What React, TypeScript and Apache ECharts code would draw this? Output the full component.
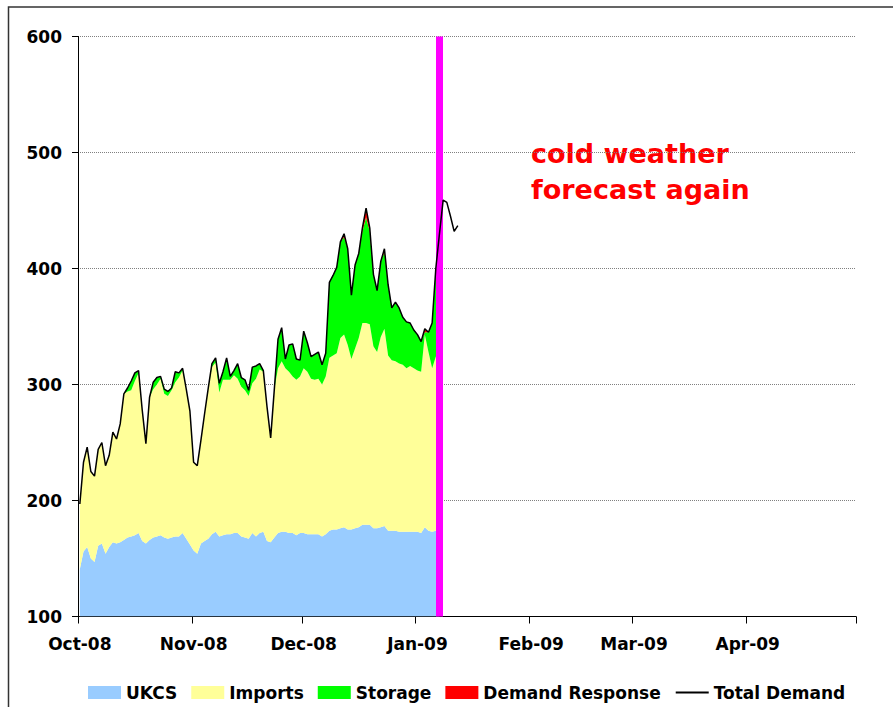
import { useEffect, useRef } from 'react';
import * as echarts from 'echarts';

// ---- axis domain ----
const axisStartUTC = [2008, 9, 1]; // 1 Oct 2008
const dayCount = 212; // through 30 Apr 2009
const monthTickLabels: Record<string, string> = {
  '2008-10': 'Oct-08',
  '2008-11': 'Nov-08',
  '2008-12': 'Dec-08',
  '2009-01': 'Jan-09',
  '2009-02': 'Feb-09',
  '2009-03': 'Mar-09',
  '2009-04': 'Apr-09',
};
const yMin = 100;
const yMax = 600;
const yStep = 100;
const forecastDate = '2009-01-07';
const annotationLines = ['cold weather', 'forecast again'];

// ---- series values (mcm/d, daily from 1 Oct 2008) ----
const ukcs = [
  141, 156, 160, 150, 147, 161, 163, 154, 160, 164,
  163, 164, 166, 168, 169, 170, 172, 165, 163, 166,
  168, 169, 170, 168, 167, 168, 169, 169, 172, 167,
  162, 157, 154, 163, 165, 167, 171, 173, 169, 170,
  171, 171, 172, 172, 169, 168, 167, 172, 169, 172,
  173, 165, 164, 168, 172, 173, 173, 172, 172, 170,
  172, 172, 171, 171, 171, 171, 169, 171, 174, 175,
  175, 176, 177, 175, 175, 176, 177, 179, 179, 179,
  176, 176, 177, 178, 174, 174, 174, 173, 173, 173,
  173, 173, 173, 172, 177, 174, 173, 174, 174,
];
const imports = [
  56, 77, 86, 75, 74, 83, 87, 76, 79, 95,
  90, 102, 126, 126, 126, 133, 138, 113, 86, 123,
  128, 131, 135, 124, 123, 127, 133, 137, 140, 129,
  115, 76, 76, 89, 110, 130, 144, 146, 124, 134,
  133, 133, 136, 133, 129, 127, 123, 129, 136, 141,
  138, 116, 90, 128, 142, 147, 141, 139, 135, 134,
  135, 142, 140, 134, 133, 134, 131, 136, 149, 150,
  152, 164, 166, 159, 147, 155, 163, 174, 174, 173,
  157, 152, 164, 170, 151, 147, 146, 145, 144, 141,
  143, 141, 139, 139, 166, 154, 141, 150, 156,
];
const storage = [
  0, 0, 0, 0, 0, 0, 0, 0, 0, 0,
  0, 0, 0, 3, 8, 7, 2, 0, 0, 0,
  6, 6, 2, 4, 4, 2, 9, 4, 2, 0,
  0, 0, 0, 0, 0, 0, 3, 4, 8, 7,
  19, 3, 4, 13, 8, 9, 5, 14, 11, 5,
  1, 0, 0, 0, 25, 29, 8, 23, 28, 18,
  14, 32, 25, 19, 22, 23, 17, 20, 65, 69,
  74, 83, 84, 83, 55, 72, 73, 79, 91, 80,
  62, 53, 65, 66, 61, 45, 51, 48, 41, 40,
  37, 33, 31, 26, 2, 17, 39, 76, 100,
];
const demandResponse = [
  0, 0, 0, 0, 0, 0, 0, 0, 0, 0,
  0, 0, 0, 0, 0, 0, 0, 0, 0, 0,
  0, 0, 0, 0, 0, 0, 0, 0, 0, 0,
  0, 0, 0, 0, 0, 0, 0, 0, 0, 0,
  0, 0, 0, 0, 0, 0, 0, 0, 0, 0,
  0, 0, 0, 0, 0, 0, 0, 0, 0, 0,
  0, 0, 0, 0, 0, 0, 0, 0, 0, 0,
  0, 0, 3, 0, 0, 0, 0, 3, 8, 3,
  0, 0, 0, 3, 0, 0, 0, 0, 0, 0,
  0, 0, 0, 0, 3, 0, 0, 0, 0,
];
const totalDemand = [
  197, 233, 246, 225, 221, 244, 250, 230, 239, 259,
  253, 266, 292, 297, 303, 310, 312, 278, 249, 289,
  302, 306, 307, 296, 294, 297, 311, 310, 314, 296,
  277, 233, 230, 252, 275, 297, 318, 323, 301, 311,
  323, 307, 312, 318, 306, 304, 295, 315, 316, 318,
  312, 281, 254, 296, 339, 349, 322, 334, 335, 322,
  321, 346, 336, 324, 326, 328, 317, 327, 388, 394,
  401, 423, 430, 417, 377, 403, 413, 435, 452, 435,
  395, 381, 406, 417, 386, 366, 371, 366, 358, 354,
  353, 347, 343, 337, 348, 345, 353, 400, 430, 459,
  457, 445, 432, 437,
];

function buildDays(): string[] {
  const out: string[] = [];
  const d = new Date(Date.UTC(axisStartUTC[0], axisStartUTC[1], axisStartUTC[2]));
  for (let i = 0; i < dayCount; i++) {
    out.push(d.toISOString().slice(0, 10));
    d.setUTCDate(d.getUTCDate() + 1);
  }
  return out;
}

const FONT = '"DejaVu Sans", Verdana, sans-serif';

export default function App() {
  const ref = useRef<HTMLDivElement>(null);

  useEffect(() => {
    if (!ref.current) return;
    const chart = echarts.init(ref.current, undefined, { renderer: 'svg' });
    const days = buildDays();
    const isMonthStart = (_i: number, v: string) => v.slice(8) === '01';

    const area = (name: string, data: number[], color: string, extra: any = {}) => ({
      name,
      type: 'line',
      stack: 'supply',
      data,
      symbol: 'none',
      showSymbol: false,
      color,
      lineStyle: { width: 0, color },
      areaStyle: { color, opacity: 1 },
      emphasis: { disabled: true },
      silent: true,
      z: 2,
      ...extra,
    });

    chart.setOption({
      animation: false,
      backgroundColor: '#ffffff',
      textStyle: { fontFamily: FONT },
      grid: { left: 78, right: 37, top: 36.5, bottom: 90.5, containLabel: false },
      xAxis: {
        type: 'category',
        data: days,
        boundaryGap: true,
        axisLine: { show: true, lineStyle: { color: '#000', width: 1 } },
        axisTick: { show: true, inside: false, length: 7, interval: isMonthStart, lineStyle: { color: '#000' } },
        axisLabel: {
          interval: isMonthStart,
          margin: 19,
          color: '#000',
          fontSize: 17,
          fontWeight: 'bold',
          fontFamily: FONT,
          formatter: (v: string) => monthTickLabels[v.slice(0, 7)] || '',
        },
        splitLine: { show: false },
      },
      yAxis: {
        type: 'value',
        min: yMin,
        max: yMax,
        interval: yStep,
        axisLine: { show: true, lineStyle: { color: '#000', width: 1 } },
        axisTick: { show: true, inside: false, length: 6, lineStyle: { color: '#000' } },
        axisLabel: { margin: 16, color: '#000', fontSize: 17, fontWeight: 'bold', fontFamily: FONT },
        splitLine: { show: true, lineStyle: { color: '#808080', type: 'dotted', width: 1 } },
      },
      legend: {
        left: 88,
        top: 684,
        padding: 0,
        itemWidth: 33,
        itemHeight: 13,
        itemGap: 14,
        selectedMode: false,
        textStyle: { color: '#000', fontSize: 17, fontWeight: 'bold', fontFamily: FONT },
        data: [
          { name: 'UKCS', icon: 'rect' },
          { name: 'Imports', icon: 'rect' },
          { name: 'Storage', icon: 'rect' },
          { name: 'Demand Response', icon: 'rect' },
          { name: 'Total Demand', itemStyle: { opacity: 0 } },
        ],
      },
      series: [
        area('UKCS', ukcs, '#99CCFF', {
          markLine: {
            silent: true,
            symbol: ['none', 'none'],
            label: { show: false },
            emphasis: { disabled: true },
            lineStyle: { color: '#FF00FF', width: 7, type: 'solid' },
            data: [{ xAxis: forecastDate }],
          },
        }),
        area('Imports', imports, '#FFFF99'),
        area('Storage', storage, '#00FF00'),
        area('Demand Response', demandResponse, '#FF0000'),
        {
          name: 'Total Demand',
          type: 'line',
          data: totalDemand,
          symbol: 'none',
          showSymbol: false,
          color: '#000',
          lineStyle: { color: '#000', width: 1.5 },
          emphasis: { disabled: true },
          silent: true,
          z: 8,
        },
      ],
      graphic: [
        {
          type: 'rect',
          silent: true,
          shape: { x: 8.5, y: 7, width: 1000, height: 1000 },
          style: { fill: 'none', stroke: '#333', lineWidth: 1.5 },
        },
        ...annotationLines.map((t, i) => ({
          type: 'text',
          silent: true,
          x: 531,
          y: 153 + i * 36,
          style: {
            text: t,
            fill: '#FF0000',
            fontSize: 27,
            fontWeight: 'bold',
            fontFamily: FONT,
            align: 'left',
            verticalAlign: 'middle',
          },
        })),
      ],
    });

    return () => chart.dispose();
  }, []);

  return (
    <div
      ref={ref}
      style={{ position: 'absolute', left: 0, top: 0, width: 893, height: 707, background: '#fff' }}
    />
  );
}
